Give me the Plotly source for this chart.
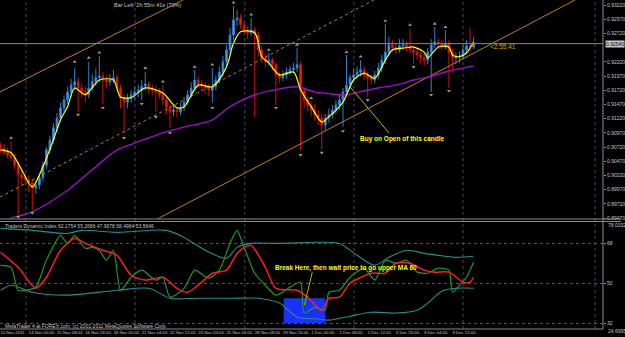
import plotly.graph_objects as go

# ---------------- price panel data (H4 bars) ----------------
bars = list(range(135))
open_ = [0.9075, 0.9070, 0.9063, 0.9058, 0.9053, 0.9040, 0.9023, 0.9018, 0.9014, 0.9009,
         0.9000, 0.9005, 0.9018, 0.9040, 0.9067, 0.9084, 0.9106, 0.9123, 0.9141, 0.9155,
         0.9169, 0.9181, 0.9187, 0.9176, 0.9169, 0.9164, 0.9176, 0.9187, 0.9194, 0.9197,
         0.9190, 0.9187, 0.9190, 0.9194, 0.9176, 0.9158, 0.9151, 0.9158, 0.9164, 0.9169,
         0.9172, 0.9179, 0.9183, 0.9176, 0.9172, 0.9169, 0.9164, 0.9155, 0.9141, 0.9134,
         0.9137, 0.9134, 0.9141, 0.9151, 0.9164, 0.9176, 0.9190, 0.9183, 0.9179, 0.9176,
         0.9172, 0.9179, 0.9190, 0.9204, 0.9222, 0.9243, 0.9269, 0.9296, 0.9299, 0.9287,
         0.9278, 0.9273, 0.9278, 0.9269, 0.9243, 0.9229, 0.9222, 0.9225, 0.9217, 0.9199,
         0.9194, 0.9199, 0.9204, 0.9208, 0.9211, 0.9217, 0.9172, 0.9155, 0.9146, 0.9137,
         0.9129, 0.9123, 0.9111, 0.9123, 0.9129, 0.9137, 0.9146, 0.9155, 0.9169, 0.9181,
         0.9194, 0.9199, 0.9204, 0.9208, 0.9199, 0.9194, 0.9190, 0.9199, 0.9211, 0.9225,
         0.9239, 0.9252, 0.9247, 0.9243, 0.9250, 0.9252, 0.9247, 0.9243, 0.9239, 0.9234,
         0.9229, 0.9225, 0.9239, 0.9252, 0.9257, 0.9254, 0.9250, 0.9254, 0.9239, 0.9229,
         0.9231, 0.9232, 0.9243, 0.9250, 0.9248]
high_ = [0.9080, 0.9078, 0.9070, 0.9081, 0.9060, 0.9046, 0.9032, 0.9025, 0.9022, 0.9016,
         0.9012, 0.9024, 0.9046, 0.9072, 0.9092, 0.9114, 0.9132, 0.9150, 0.9163, 0.9178,
         0.9192, 0.9211, 0.9194, 0.9183, 0.9178, 0.9222, 0.9200, 0.9210, 0.9232, 0.9204,
         0.9198, 0.9200, 0.9208, 0.9200, 0.9182, 0.9165, 0.9166, 0.9172, 0.9178, 0.9182,
         0.9190, 0.9204, 0.9188, 0.9182, 0.9180, 0.9176, 0.9181, 0.9160, 0.9148, 0.9145,
         0.9142, 0.9150, 0.9160, 0.9172, 0.9186, 0.9208, 0.9196, 0.9190, 0.9186, 0.9183,
         0.9211, 0.9198, 0.9214, 0.9232, 0.9252, 0.9282, 0.9320, 0.9313, 0.9306, 0.9294,
         0.9285, 0.9299, 0.9284, 0.9275, 0.9250, 0.9236, 0.9238, 0.9230, 0.9222, 0.9205,
         0.9206, 0.9212, 0.9215, 0.9220, 0.9247, 0.9222, 0.9178, 0.9162, 0.9152, 0.9148,
         0.9136, 0.9130, 0.9130, 0.9140, 0.9146, 0.9154, 0.9164, 0.9176, 0.9234, 0.9200,
         0.9210, 0.9214, 0.9225, 0.9214, 0.9205, 0.9200, 0.9206, 0.9220, 0.9234, 0.9289,
         0.9266, 0.9260, 0.9254, 0.9262, 0.9262, 0.9258, 0.9280, 0.9250, 0.9245, 0.9240,
         0.9236, 0.9246, 0.9262, 0.9284, 0.9263, 0.9260, 0.9278, 0.9260, 0.9245, 0.9238,
         0.9240, 0.9252, 0.9260, 0.9282, 0.9266]
low_ = [0.9062, 0.9058, 0.9052, 0.9047, 0.9033, 0.8953, 0.9005, 0.9004, 0.8992, 0.8961,
        0.8990, 0.8998, 0.9012, 0.9034, 0.9060, 0.9078, 0.9098, 0.9116, 0.9134, 0.9148,
        0.9160, 0.9172, 0.9134, 0.9158, 0.9150, 0.9158, 0.9170, 0.9180, 0.9186, 0.9148,
        0.9176, 0.9180, 0.9184, 0.9168, 0.9140, 0.9097, 0.9140, 0.9150, 0.9156, 0.9160,
        0.9155, 0.9172, 0.9166, 0.9164, 0.9134, 0.9156, 0.9146, 0.9130, 0.9106, 0.9126,
        0.9124, 0.9128, 0.9135, 0.9145, 0.9158, 0.9170, 0.9176, 0.9170, 0.9166, 0.9162,
        0.9150, 0.9172, 0.9184, 0.9196, 0.9214, 0.9236, 0.9260, 0.9285, 0.9280, 0.9270,
        0.9262, 0.9268, 0.9125, 0.9232, 0.9220, 0.9212, 0.9215, 0.9206, 0.9146, 0.9185,
        0.9188, 0.9192, 0.9198, 0.9202, 0.9204, 0.9067, 0.9140, 0.9134, 0.9126, 0.9118,
        0.9110, 0.9067, 0.9100, 0.9115, 0.9122, 0.9130, 0.9138, 0.9108, 0.9162, 0.9174,
        0.9188, 0.9192, 0.9196, 0.9190, 0.9160, 0.9182, 0.9184, 0.9192, 0.9204, 0.9218,
        0.9232, 0.9240, 0.9236, 0.9238, 0.9244, 0.9240, 0.9236, 0.9218, 0.9226, 0.9220,
        0.9215, 0.9218, 0.9169, 0.9246, 0.9245, 0.9242, 0.9244, 0.9176, 0.9205, 0.9218,
        0.9220, 0.9226, 0.9236, 0.9240, 0.9244]
close_ = [0.9070, 0.9063, 0.9058, 0.9053, 0.9040, 0.9023, 0.9018, 0.9014, 0.9009, 0.9000,
          0.9005, 0.9018, 0.9040, 0.9067, 0.9084, 0.9106, 0.9123, 0.9141, 0.9155, 0.9169,
          0.9181, 0.9187, 0.9176, 0.9169, 0.9164, 0.9176, 0.9187, 0.9194, 0.9197, 0.9190,
          0.9187, 0.9190, 0.9194, 0.9176, 0.9158, 0.9151, 0.9158, 0.9164, 0.9169, 0.9172,
          0.9179, 0.9183, 0.9176, 0.9172, 0.9169, 0.9164, 0.9155, 0.9141, 0.9134, 0.9137,
          0.9134, 0.9141, 0.9151, 0.9164, 0.9176, 0.9190, 0.9183, 0.9179, 0.9176, 0.9172,
          0.9179, 0.9190, 0.9204, 0.9222, 0.9243, 0.9269, 0.9296, 0.9299, 0.9287, 0.9278,
          0.9273, 0.9278, 0.9269, 0.9243, 0.9229, 0.9222, 0.9225, 0.9217, 0.9199, 0.9194,
          0.9199, 0.9204, 0.9208, 0.9211, 0.9217, 0.9172, 0.9155, 0.9146, 0.9137, 0.9129,
          0.9123, 0.9111, 0.9123, 0.9129, 0.9137, 0.9146, 0.9155, 0.9169, 0.9181, 0.9194,
          0.9199, 0.9204, 0.9208, 0.9199, 0.9194, 0.9190, 0.9199, 0.9211, 0.9225, 0.9239,
          0.9252, 0.9247, 0.9243, 0.9250, 0.9252, 0.9247, 0.9243, 0.9239, 0.9234, 0.9229,
          0.9225, 0.9239, 0.9252, 0.9257, 0.9254, 0.9250, 0.9254, 0.9239, 0.9229, 0.9231,
          0.9232, 0.9243, 0.9250, 0.9248, 0.9254]

# fast MA (yellow)
ma_fast_bars = [0, 3, 6, 9, 12, 15, 17, 19, 21, 24, 28, 32, 34, 37, 41, 46, 50, 52, 56, 60,
                64, 66, 68, 72, 74, 76, 79, 83, 85, 88, 91, 93, 97, 100, 103, 106, 109, 111,
                114, 117, 120, 121, 124, 127, 128, 130, 132, 134]
ma_fast_vals = [0.9067, 0.9062, 0.9032, 0.9002, 0.9037, 0.9085, 0.9120, 0.9143, 0.9176, 0.9164,
                0.9190, 0.9190, 0.9160, 0.9159, 0.9176, 0.9167, 0.9141, 0.9143, 0.9181, 0.9178,
                0.9213, 0.9255, 0.9275, 0.9273, 0.9231, 0.9220, 0.9199, 0.9204, 0.9173, 0.9143,
                0.9116, 0.9125, 0.9151, 0.9190, 0.9202, 0.9193, 0.9225, 0.9243, 0.9246, 0.9248,
                0.9239, 0.9229, 0.9248, 0.9248, 0.9234, 0.9231, 0.9238, 0.9257]
# MA 60 (purple)
ma60_bars = [0, 3, 9, 19, 26, 33, 38, 47, 52, 60, 65, 72, 78, 84, 89, 93, 98, 103, 107, 112,
             117, 121, 126, 131, 134]
ma60_vals = [0.8940, 0.8947, 0.8958, 0.8996, 0.9032, 0.9067, 0.9079, 0.9099, 0.9107, 0.9120,
             0.9143, 0.9164, 0.9173, 0.9178, 0.9169, 0.9166, 0.9164, 0.9171, 0.9176, 0.9181,
             0.9190, 0.9195, 0.9204, 0.9211, 0.9215]

# channel trendlines (anchor points where they leave the panel)
trend_upper_bars = [-0.14, 51.8]
trend_upper_vals = [0.9169, 0.9331]
trend_mid_bars = [-0.14, 105.8]
trend_mid_vals = [0.8984, 0.9331]
trend_lower_bars = [44.0, 162.8]
trend_lower_vals = [0.8944, 0.9331]

# fractal arrows
frac_up_bars = [3, 21, 25, 28, 41, 46, 55, 60, 66, 71, 76, 84, 88, 98, 102, 109, 116, 123, 126]
frac_up_vals = [0.9088, 0.9222, 0.9229, 0.9238, 0.9211, 0.9187, 0.9213, 0.9217, 0.9326, 0.9305,
                0.9243, 0.9252, 0.9158, 0.9239, 0.9231, 0.9294, 0.9287, 0.9289, 0.9283]
frac_dn_bars = [5, 9, 22, 29, 35, 40, 44, 48, 60, 78, 85, 91, 97, 104, 117, 122, 127]
frac_dn_vals = [0.8949, 0.8956, 0.9129, 0.9141, 0.9088, 0.9148, 0.9125, 0.9097, 0.9141, 0.9141,
                0.9058, 0.9062, 0.9100, 0.9155, 0.9213, 0.9164, 0.9171]

# price scale labels (the one at the bid price is hidden behind the bid box)
price_ticks = [0.93220, 0.92970, 0.92720, 0.92220, 0.91970, 0.91720, 0.91470,
               0.91220, 0.90970, 0.90720, 0.90470, 0.90220, 0.89970, 0.89720, 0.89470]

tick_bars = [0, 8, 16, 24, 32, 40, 48, 56, 64, 72, 80, 88, 96, 104, 112, 120, 128]
tick_text = ["10 Nov 2011", "14 Nov 00:00", "15 Nov 08:00", "16 Nov 16:00", "18 Nov 00:00",
             "21 Nov 04:00", "22 Nov 12:00", "23 Nov 20:00", "25 Nov 04:00", "28 Nov 08:00",
             "29 Nov 16:00", "1 Dec 00:00", "2 Dec 08:00", "5 Dec 12:00", "6 Dec 20:00",
             "8 Dec 04:00", "9 Dec 12:00"]
grid_bars = [7.2, 38.1, 69.2, 100.1, 131.0, 168.4]

# ---------------- Traders Dynamic Index ----------------
tdi_upper_bars = [0, 9, 19, 23, 33, 47, 52, 58, 64, 67, 71, 79, 90, 96, 101, 106, 110, 115, 120, 124, 129, 134]
tdi_upper_vals = [74.8, 73.9, 72.5, 73.9, 73.0, 73.9, 70.7, 64.9, 61.3, 66.2, 68.0, 68.0, 68.5,
                  68.0, 62.6, 58.1, 61.7, 64.9, 63.5, 62.6, 61.7, 62.2]
tdi_lower_bars = [0, 3, 9, 19, 33, 42, 48, 56, 65, 73, 79, 84, 90, 93, 99, 105, 112, 118, 121, 125, 129, 134]
tdi_lower_vals = [46.8, 49.1, 45.9, 44.6, 46.8, 47.7, 43.2, 43.2, 43.2, 43.2, 41.0, 34.7, 33.8,
                  33.3, 35.1, 36.9, 36.5, 37.8, 41.0, 46.4, 47.7, 47.7]
tdi_rsi_bars = [0, 3, 5, 7, 10, 13, 17, 19, 21, 24, 26, 28, 30, 32, 34, 37, 40, 44, 46, 48, 52,
                55, 59, 62, 65, 67, 69, 72, 75, 78, 82, 85, 86, 89, 92, 93, 96, 99, 103, 106,
                109, 112, 115, 118, 121, 124, 127, 128, 130, 132, 134]
tdi_rsi_vals = [58.1, 57.2, 46.8, 46.8, 48.2, 60.4, 71.6, 68.0, 71.6, 65.8, 66.2, 64.9, 60.4,
                64.9, 46.8, 52.7, 55.9, 51.4, 52.7, 43.7, 47.7, 55.9, 52.3, 55.9, 68.0, 73.9,
                66.2, 54.5, 49.1, 44.6, 48.2, 50.5, 36.5, 39.2, 37.8, 45.9, 46.8, 52.7, 56.8,
                51.4, 60.4, 59.0, 60.4, 55.0, 54.5, 56.8, 55.9, 45.9, 49.1, 52.7, 59.5]
tdi_sig_bars = [0, 5, 10, 13, 17, 21, 24, 29, 33, 37, 41, 46, 50, 53, 56, 60, 64, 67, 69, 71,
                75, 78, 84, 87, 91, 93, 96, 99, 105, 109, 112, 116, 120, 123, 127, 131, 133, 134]
tdi_sig_vals = [64.0, 57.2, 47.7, 52.7, 64.9, 70.3, 68.0, 64.9, 62.6, 53.6, 51.4, 52.7, 47.7,
                45.9, 49.1, 54.5, 55.9, 63.5, 66.2, 67.1, 57.2, 47.7, 46.8, 43.7, 37.8, 43.2,
                43.7, 50.0, 54.5, 54.5, 59.0, 59.0, 55.9, 55.0, 55.0, 50.5, 50.5, 52.7]
tdi_levels = [68, 50, 32]
tdi_title = "Traders Dynamic Index 62.1754 55.2686 47.9678 58.4964 53.5646"

# ---------------- geometry helpers (pixels -> paper) ----------------
PLOT_W, PLOT_H = 608, 329


def px_x(px):
    return px / PLOT_W


def px_y(px):
    return 1 - px / PLOT_H


FONT = "Liberation Sans"
GREY = "#c4c4c4"

fig = go.Figure()

fig.add_trace(go.Candlestick(
    x=bars, open=open_, high=high_, low=low_, close=close_, xaxis="x", yaxis="y",
    increasing=dict(line=dict(color="#2f7fd0", width=1), fillcolor="#4ea3ee"),
    decreasing=dict(line=dict(color="#c81212", width=1), fillcolor="#ff2600"),
    whiskerwidth=0, showlegend=False, hoverinfo="skip"))

for bx, by, dash in [(trend_upper_bars, trend_upper_vals, "solid"),
                     (trend_mid_bars, trend_mid_vals, "dot"),
                     (trend_lower_bars, trend_lower_vals, "solid")]:
    fig.add_trace(go.Scatter(x=bx, y=by, mode="lines", xaxis="x", yaxis="y",
                             line=dict(color="#c47a2a", width=1, dash=dash),
                             showlegend=False, hoverinfo="skip"))

fig.add_trace(go.Scatter(x=ma60_bars, y=ma60_vals, mode="lines", xaxis="x", yaxis="y",
                         line=dict(color="#9a10c8", width=1.4, shape="spline", smoothing=0.8),
                         showlegend=False, hoverinfo="skip"))
fig.add_trace(go.Scatter(x=ma_fast_bars, y=ma_fast_vals, mode="lines", xaxis="x", yaxis="y",
                         line=dict(color="#ffff00", width=1.2, shape="spline", smoothing=0.8),
                         showlegend=False, hoverinfo="skip"))
fig.add_trace(go.Scatter(x=frac_up_bars, y=frac_up_vals, mode="markers", xaxis="x", yaxis="y",
                         marker=dict(symbol="triangle-up", size=3.5, color="#9a9a9a"),
                         showlegend=False, hoverinfo="skip"))
fig.add_trace(go.Scatter(x=frac_dn_bars, y=frac_dn_vals, mode="markers", xaxis="x", yaxis="y",
                         marker=dict(symbol="triangle-down", size=3.5, color="#9a9a9a"),
                         showlegend=False, hoverinfo="skip"))

# TDI
fig.add_trace(go.Scatter(x=tdi_upper_bars, y=tdi_upper_vals, mode="lines", xaxis="x", yaxis="y2",
                         line=dict(color="#2a8c8c", width=1.1, shape="spline", smoothing=0.8),
                         showlegend=False, hoverinfo="skip"))
fig.add_trace(go.Scatter(x=tdi_lower_bars, y=tdi_lower_vals, mode="lines", xaxis="x", yaxis="y2",
                         line=dict(color="#2a8c8c", width=1.1, shape="spline", smoothing=0.8),
                         showlegend=False, hoverinfo="skip"))
fig.add_trace(go.Scatter(x=tdi_rsi_bars, y=tdi_rsi_vals, mode="lines", xaxis="x", yaxis="y2",
                         line=dict(color="#1e9a1e", width=1.2, shape="spline", smoothing=0.6),
                         showlegend=False, hoverinfo="skip"))
fig.add_trace(go.Scatter(x=tdi_sig_bars, y=tdi_sig_vals, mode="lines", xaxis="x", yaxis="y2",
                         line=dict(color="#ff1e1e", width=1.5, shape="spline", smoothing=0.7),
                         showlegend=False, hoverinfo="skip"))

shapes = []
# vertical dotted grid
for g in grid_bars:
    shapes.append(dict(type="line", xref="x", yref="paper", x0=g, x1=g, y0=0, y1=1,
                       line=dict(color="#3e4c5c", width=1, dash="dot"), layer="below"))
# current bid line
shapes.append(dict(type="line", xref="paper", yref="y", x0=0, x1=1, y0=close_[-1], y1=close_[-1],
                   line=dict(color="#8a8a8a", width=1)))
# panel borders
shapes.append(dict(type="line", xref="paper", yref="paper", x0=1, x1=1, y0=0, y1=1,
                   line=dict(color="#8a8a8a", width=1)))
for yy in (219, 221.5):
    shapes.append(dict(type="line", xref="paper", yref="paper", x0=0, x1=1.03,
                       y0=px_y(yy), y1=px_y(yy), line=dict(color="#8a8a8a", width=1)))
shapes.append(dict(type="line", xref="paper", yref="paper", x0=0, x1=1, y0=0, y1=0,
                   line=dict(color="#8a8a8a", width=1)))
# blue highlight box in TDI
shapes.append(dict(type="rect", xref="x", yref="y2", x0=80.2, x1=92.0, y0=32.0, y1=43.2,
                   fillcolor="#1a30ff", line=dict(width=0), layer="below"))
# pointer lines from the notes
shapes.append(dict(type="line", xref="x", yref="y", x0=99.0, y0=0.9178, x1=110.0, y1=0.9097,
                   line=dict(color="#b8b800", width=1)))
shapes.append(dict(type="line", xref="x", yref="y2", x0=86.1, y0=40.1, x1=88.3, y1=55.0,
                   line=dict(color="#b8b800", width=1)))

annotations = [
    dict(text="Bar Left: 2h 55m 41s (73%)", xref="paper", yref="paper", x=px_x(113), y=px_y(5),
         xanchor="left", yanchor="middle", showarrow=False, font=dict(size=5.5, color=GREY, family=FONT)),
    dict(text="<b>Buy on Open of this candle</b>", xref="x", yref="y", x=113.8, y=0.90862,
         xanchor="center", yanchor="middle", showarrow=False, font=dict(size=6.5, color="#ffff00", family=FONT)),
    dict(text="<2:55:41", xref="x", yref="y", x=138.1, y=0.92481, xanchor="left", yanchor="middle",
         showarrow=False, font=dict(size=6.5, color="#c8b000", family=FONT)),
    dict(text="<b>Break Here, then wait price to go upper MA 60</b>", xref="x", yref="y2", x=97.9, y=56.8,
         xanchor="center", yanchor="middle", showarrow=False, font=dict(size=6.5, color="#ffff00", family=FONT)),
    dict(text=tdi_title, xref="paper", yref="paper", x=px_x(3), y=px_y(225.5), xanchor="left",
         yanchor="middle", showarrow=False, font=dict(size=5, color=GREY, family=FONT)),
    dict(text="MetaTrader 4 at FOREX.com, (c) 2001-2011 MetaQuotes Software Corp.", xref="paper",
         yref="paper", x=px_x(3), y=px_y(325.5), xanchor="left", yanchor="middle", showarrow=False,
         font=dict(size=5, color=GREY, family=FONT)),
    dict(text=f"{close_[-1]:.5f}", xref="paper", yref="y", x=px_x(610), y=close_[-1], xanchor="left",
         yanchor="middle", showarrow=False, bgcolor="#c8c8c8", borderpad=0,
         font=dict(size=5, color="#000000", family=FONT)),
    dict(text="78.0332", xref="paper", yref="paper", x=px_x(611), y=px_y(225), xanchor="left",
         yanchor="middle", showarrow=False, font=dict(size=5, color=GREY, family=FONT)),
    dict(text="24.6995", xref="paper", yref="paper", x=px_x(611), y=px_y(331), xanchor="left",
         yanchor="middle", showarrow=False, font=dict(size=5, color=GREY, family=FONT)),
]

fig.update_layout(
    width=625, height=337, margin=dict(l=0, r=17, t=0, b=8),
    paper_bgcolor="#000000", plot_bgcolor="#000000", showlegend=False,
    xaxis=dict(domain=[0, 1], anchor="y2", range=[-0.14, 170.65],
               tickvals=tick_bars, ticktext=tick_text, ticklabelposition="outside right",
               tickangle=0, tickfont=dict(size=4.3, color=GREY, family=FONT), ticks="",
               showgrid=False, zeroline=False, showline=False,
               rangeslider=dict(visible=False)),
    yaxis=dict(domain=[1 - 218.5 / PLOT_H, 1], anchor="x", side="right",
               range=[0.89462, 0.93308], tickvals=price_ticks,
               ticktext=[f"{v:.5f}" for v in price_ticks],
               tickfont=dict(size=5, color=GREY, family=FONT), ticks="outside", ticklen=2,
               tickcolor="#8a8a8a", showgrid=False, zeroline=False, showline=False),
    yaxis2=dict(domain=[0, 1 - 221.5 / PLOT_H], anchor="x", side="right",
                range=[29.3, 77.9], tickvals=tdi_levels, ticktext=[str(v) for v in tdi_levels],
                tickfont=dict(size=5, color=GREY, family=FONT), ticks="outside", ticklen=2,
                tickcolor="#8a8a8a", showgrid=True, gridcolor="#4a5662", griddash="dot",
                gridwidth=1, zeroline=False, showline=False),
    shapes=shapes, annotations=annotations,
)

fig.write_html("out.html")
